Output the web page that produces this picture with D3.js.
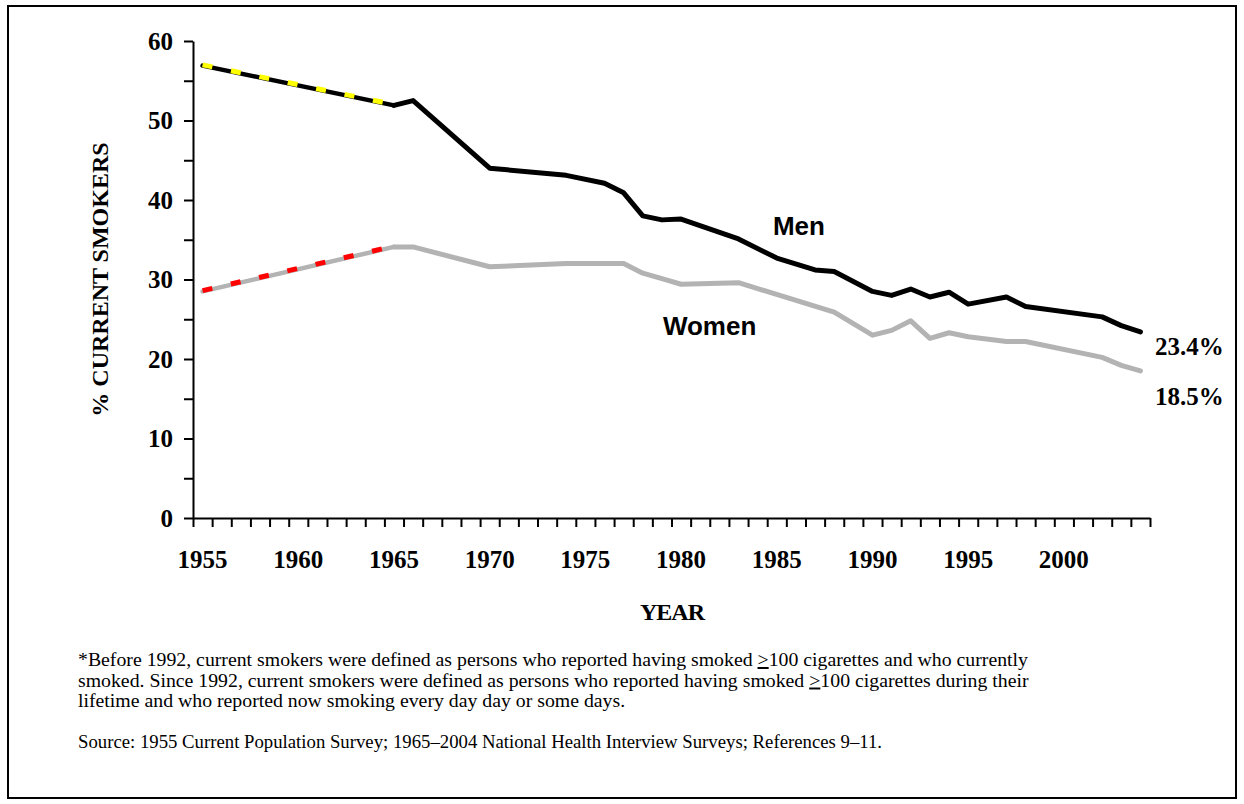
<!DOCTYPE html>
<html>
<head>
<meta charset="utf-8">
<script src="https://cdn.jsdelivr.net/npm/d3@7"></script>
<style>
    body { margin: 0; background: #fff; }
    .tick text { font-family: "Liberation Serif", "Times New Roman", serif; font-weight: bold; font-size: 25px; fill: #000; }
</style>
</head>
<body>
<div id="chart"></div>
<script>
const menYears = [1955, 1965, 1966, 1970, 1974, 1976, 1977, 1978, 1979, 1980, 1983, 1985, 1987, 1988,
    1990, 1991, 1992, 1993, 1994, 1995, 1997, 1998, 2002, 2003, 2004];
const menValues = [56.9, 51.9, 52.5, 44.0, 43.1, 42.1, 40.9, 38.0, 37.5, 37.6, 35.1, 32.7, 31.2, 31.0,
    28.5, 28.0, 28.8, 27.8, 28.4, 26.9, 27.8, 26.6, 25.3, 24.2, 23.4];

const womenYears = [1955, 1965, 1966, 1970, 1974, 1976, 1977, 1978, 1979, 1980, 1983, 1988,
    1990, 1991, 1992, 1993, 1994, 1995, 1997, 1998, 2002, 2003, 2004];
const womenValues = [28.5, 34.1, 34.1, 31.6, 32.0, 32.0, 32.0, 30.8, 30.1, 29.4, 29.6, 25.9,
    23.0, 23.6, 24.8, 22.6, 23.3, 22.8, 22.2, 22.2, 20.2, 19.2, 18.5];

// years up to this are drawn dashed (1955 survey to first NHIS year)
const dashedUntil = 1965;

const yearLabels = [1955, 1960, 1965, 1970, 1975, 1980, 1985, 1990, 1995, 2000];
const yTicks = [0, 5, 10, 15, 20, 25, 30, 35, 40, 45, 50, 55, 60];

const footnoteLines = [
    ["*Before 1992, current smokers were defined as persons who reported having smoked ", ">", "100 cigarettes and who currently"],
    ["smoked. Since 1992, current smokers were defined as persons who reported having smoked ", ">", "100 cigarettes during their"],
    ["lifetime and who reported now smoking every day day or some days."]
];
const sourceText = "Source: 1955 Current Population Survey; 1965\u20132004 National Health Interview Surveys; References 9\u201311.";

const W = 1244, H = 804;
const serif = "'Liberation Serif', 'Times New Roman', serif";

const svg = d3.select("#chart")
    .append("svg")
    .attr("width", W)
    .attr("height", H);

svg.append("rect")
    .attr("x", 8)
    .attr("y", 6)
    .attr("width", 1228)
    .attr("height", 792)
    .attr("fill", "#fff")
    .attr("stroke", "#000")
    .attr("stroke-width", 2);

const x = d3.scaleLinear()
    .domain([1955, 2005])
    .range([193, 1150]);

const y = d3.scaleLinear()
    .domain([0, 60])
    .range([518, 41]);

// points sit in the middle of each year's slot
const px = yr => x(yr + 0.5);

svg.append("g")
    .attr("transform", `translate(${x(1955)},0)`)
    .call(d3.axisLeft(y)
        .tickValues(yTicks)
        .tickSize(9)
        .tickSizeOuter(0)
        .tickPadding(11)
        .tickFormat(d => d % 10 === 0 ? d : ""));

svg.append("g")
    .attr("transform", `translate(0,${y(0)})`)
    .call(d3.axisBottom(x)
        .tickValues(d3.range(1955, 2006))
        .tickSize(9)
        .tickSizeOuter(0)
        .tickFormat(""));

svg.selectAll(".domain, .tick line")
    .attr("stroke", "#000")
    .attr("stroke-width", 2);

svg.selectAll(".year-label")
    .data(yearLabels)
    .enter()
    .append("text")
    .attr("class", "year-label")
    .attr("x", d => px(d))
    .attr("y", 568)
    .attr("text-anchor", "middle")
    .style("font-family", serif)
    .style("font-weight", "bold")
    .style("font-size", "25px")
    .text(d => d);

svg.append("text")
    .attr("transform", `translate(108,${(y(0) + y(60)) / 2}) rotate(-90)`)
    .attr("text-anchor", "middle")
    .style("font-family", serif)
    .style("font-weight", "bold")
    .style("font-size", "24px")
    .text("% CURRENT SMOKERS");

svg.append("text")
    .attr("x", 672)
    .attr("y", 620)
    .attr("text-anchor", "middle")
    .style("font-family", serif)
    .style("font-weight", "bold")
    .style("font-size", "24px")
    .style("letter-spacing", "-1px")
    .text("YEAR");

const line = d3.line()
    .x(d => px(d[0]))
    .y(d => y(d[1]));

function drawSeries(years, values, color, dashColor) {
    const pts = years.map((yr, i) => [yr, values[i]]);
    const early = pts.filter(d => d[0] <= dashedUntil);
    const late = pts.filter(d => d[0] >= dashedUntil);

    svg.append("path")
        .datum(early)
        .attr("d", line)
        .attr("fill", "none")
        .attr("stroke", color)
        .attr("stroke-width", 4.5)
        .attr("stroke-linecap", "round");

    svg.append("path")
        .datum(early)
        .attr("d", line)
        .attr("fill", "none")
        .attr("stroke", dashColor)
        .attr("stroke-width", 5)
        .attr("stroke-dasharray", "10,19")
        .attr("transform", "translate(0,-0.8)");

    svg.append("path")
        .datum(late)
        .attr("d", line)
        .attr("fill", "none")
        .attr("stroke", color)
        .attr("stroke-width", 5)
        .attr("stroke-linejoin", "round")
        .attr("stroke-linecap", "round");
}

drawSeries(womenYears, womenValues, "#b3b3b3", "#ff0000");
drawSeries(menYears, menValues, "#000", "#ffff00");

const seriesLabel = (txt, yr, val) => svg.append("text")
    .attr("x", x(yr))
    .attr("y", y(val))
    .style("font-family", "'Liberation Sans', Arial, sans-serif")
    .style("font-weight", "bold")
    .style("font-size", "26px")
    .text(txt);

seriesLabel("Men", 1985.3, 35.6);
seriesLabel("Women", 1979.55, 23.0);

const endLabel = (txt, val) => svg.append("text")
    .attr("x", x(2005.26))
    .attr("y", y(val))
    .style("font-family", serif)
    .style("font-weight", "bold")
    .style("font-size", "25px")
    .text(txt);

endLabel(menValues[menValues.length - 1].toFixed(1) + "%", 20.5);
endLabel(womenValues[womenValues.length - 1].toFixed(1) + "%", 14.2);

const note = svg.append("g")
    .style("font-family", serif)
    .style("font-size", "19.8px")
    .attr("fill", "#000");

footnoteLines.forEach((parts, i) => {
    const t = note.append("text")
        .attr("x", 78)
        .attr("y", 666 + i * 20.5);
    parts.forEach(p => {
        t.append("tspan")
            .attr("text-decoration", p === ">" ? "underline" : null)
            .text(p);
    });
});

note.append("text")
    .attr("x", 78)
    .attr("y", 748)
    .attr("textLength", 804)
    .attr("lengthAdjust", "spacingAndGlyphs")
    .text(sourceText);
</script>
</body>
</html>
